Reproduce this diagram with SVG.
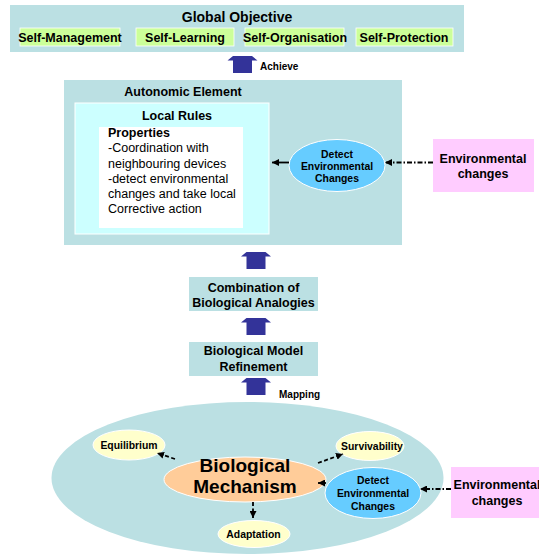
<svg xmlns="http://www.w3.org/2000/svg" width="539" height="554" viewBox="0 0 539 554">
<style>
text{font-family:"Liberation Sans",Arial,sans-serif;font-weight:bold;fill:#000;text-anchor:middle}
.teal{fill:#bbe0e3}
.green{fill:#ccff99;stroke:#ffffff;stroke-width:0.8}
.blue{fill:#66ccff;stroke:#ffffff;stroke-width:1}
.yellow{fill:#ffffcc;stroke:#ffffff;stroke-width:1}
.pink{fill:#ffccff}
.t14{font-size:14px}
.t12{font-size:12.5px}
.t10{font-size:10.4px}
.reg{font-weight:normal;text-anchor:start}
.blk{fill:#333399}
.dash{stroke:#000;stroke-width:1.8;fill:none;stroke-dasharray:4 2.5}
.dd{stroke:#000;stroke-width:1.8;fill:none;stroke-dasharray:5 2 1.5 2}
.sol{stroke:#000;stroke-width:1.8;fill:none}
</style>
<defs>
<marker id="ah" viewBox="0 0 10 10" refX="10" refY="5" markerWidth="7" markerHeight="7" markerUnits="userSpaceOnUse" orient="auto">
<path d="M0,0 L10,5 L0,10 Z" fill="#000"/>
</marker>
<path id="blockArrow" d="M-9.5,0 L9.5,0 L15,4.5 L9.5,4.5 L9.5,17 L-9.5,17 L-9.5,4.5 L-15,4.5 Z"/>
</defs>

<g id="global-objective">
<rect class="teal" x="10" y="5" width="454" height="47"/>
<text class="t14" x="237" y="21.5">Global Objective</text>
</g>
<g id="self-management">
<rect class="green" x="20" y="28" width="100" height="18"/>
<text class="t12" x="70" y="42">Self-Management</text>
</g>
<g id="self-learning">
<rect class="green" x="136" y="28" width="98" height="18"/>
<text class="t12" x="185" y="42">Self-Learning</text>
</g>
<g id="self-organisation">
<rect class="green" x="245" y="28" width="99" height="18"/>
<text class="t12" x="295" y="42">Self-Organisation</text>
</g>
<g id="self-protection">
<rect class="green" x="356" y="28" width="97" height="18"/>
<text class="t12" x="404" y="42">Self-Protection</text>
</g>

<g id="autonomic-element">
<rect class="teal" x="64" y="80" width="338" height="165"/>
<text class="t12" x="183" y="96">Autonomic Element</text>
</g>
<g id="local-rules">
<rect x="75" y="103" width="194" height="131" fill="#ccffff" stroke="#ffffff" stroke-width="1"/>
<text class="t12" x="177" y="119.5">Local Rules</text>
</g>
<g id="properties">
<rect x="99" y="127" width="144" height="101" fill="#ffffff"/>
<text class="t12" x="108" y="137" style="text-anchor:start">Properties</text>
<text class="t12 reg" x="108" y="152.3">-Coordination with</text>
<text class="t12 reg" x="108" y="167.5">neighbouring devices</text>
<text class="t12 reg" x="108" y="182.7">-detect environmental</text>
<text class="t12 reg" x="108" y="197.9">changes and take local</text>
<text class="t12 reg" x="108" y="213.1">Corrective action</text>
</g>
<g id="detect-top">
<ellipse class="blue" cx="337" cy="165.5" rx="48" ry="26"/>
<text class="t10" x="337" y="157.8">Detect</text>
<text class="t10" x="337" y="169.8">Environmental</text>
<text class="t10" x="337" y="182">Changes</text>
</g>
<g id="env-changes-top">
<rect class="pink" x="433" y="139" width="101" height="53"/>
<text class="t12" x="483" y="163">Environmental</text>
<text class="t12" x="483" y="178">changes</text>
</g>

<g id="combination">
<rect class="teal" x="189" y="277" width="129" height="34"/>
<text class="t12" x="253.5" y="291.8">Combination of</text>
<text class="t12" x="253.5" y="306.8">Biological Analogies</text>
</g>
<g id="refinement">
<rect class="teal" x="189" y="342" width="129" height="34"/>
<text class="t12" x="253.5" y="354.5">Biological Model</text>
<text class="t12" x="253.5" y="371">Refinement</text>
</g>

<g id="bio-region">
<ellipse class="teal" cx="247.5" cy="478" rx="196" ry="76"/>
</g>
<g id="biological-mechanism">
<ellipse cx="245" cy="479.5" rx="81" ry="22.5" fill="#ffcc99" stroke="#ffffff" stroke-width="1"/>
<text x="245" y="471.5" style="font-size:19px">Biological</text>
<text x="245" y="492.5" style="font-size:19px">Mechanism</text>
</g>
<g id="equilibrium">
<ellipse class="yellow" cx="129" cy="445" rx="36" ry="15"/>
<text class="t10" x="129" y="448.8">Equilibrium</text>
</g>
<g id="survivability">
<ellipse class="yellow" cx="370" cy="446" rx="34" ry="14.5"/>
<text class="t10" x="372" y="449.6">Survivability</text>
</g>
<g id="adaptation">
<ellipse class="yellow" cx="254" cy="534" rx="36" ry="13.5"/>
<text class="t10" x="253.5" y="538">Adaptation</text>
</g>
<g id="detect-bottom">
<ellipse class="blue" cx="373" cy="493" rx="48" ry="25.5"/>
<text class="t10" x="373" y="484">Detect</text>
<text class="t10" x="373" y="497">Environmental</text>
<text class="t10" x="373" y="509.5">Changes</text>
</g>
<g id="env-changes-bottom">
<rect class="pink" x="451" y="467" width="100" height="51"/>
<text class="t12" x="497" y="489">Environmental</text>
<text class="t12" x="497" y="505">changes</text>
</g>

<g id="connectors">
<use href="#blockArrow" class="blk" transform="translate(242.5,56)"/>
<text class="t10" x="260" y="70" style="text-anchor:start;font-size:10px">Achieve</text>
<use href="#blockArrow" class="blk" transform="translate(256,252)"/>
<use href="#blockArrow" class="blk" transform="translate(256,318)"/>
<use href="#blockArrow" class="blk" transform="translate(256,378)"/>
<text class="t10" x="279" y="397.5" style="text-anchor:start;font-size:10px">Mapping</text>

<line class="sol" x1="289" y1="162.5" x2="272" y2="162.5" marker-end="url(#ah)"/>
<line class="dd" x1="433" y1="162.5" x2="385" y2="162.5" marker-end="url(#ah)"/>

<line class="dash" x1="175" y1="459" x2="157" y2="453" marker-end="url(#ah)"/>
<line class="dash" x1="318" y1="463" x2="343" y2="454" marker-end="url(#ah)"/>
<line class="dash" x1="253" y1="502" x2="253" y2="518" marker-end="url(#ah)"/>
<line class="sol" x1="326" y1="483" x2="318" y2="483" marker-end="url(#ah)"/>
<line class="dd" x1="451" y1="489" x2="420" y2="489" marker-end="url(#ah)"/>
</g>
</svg>
